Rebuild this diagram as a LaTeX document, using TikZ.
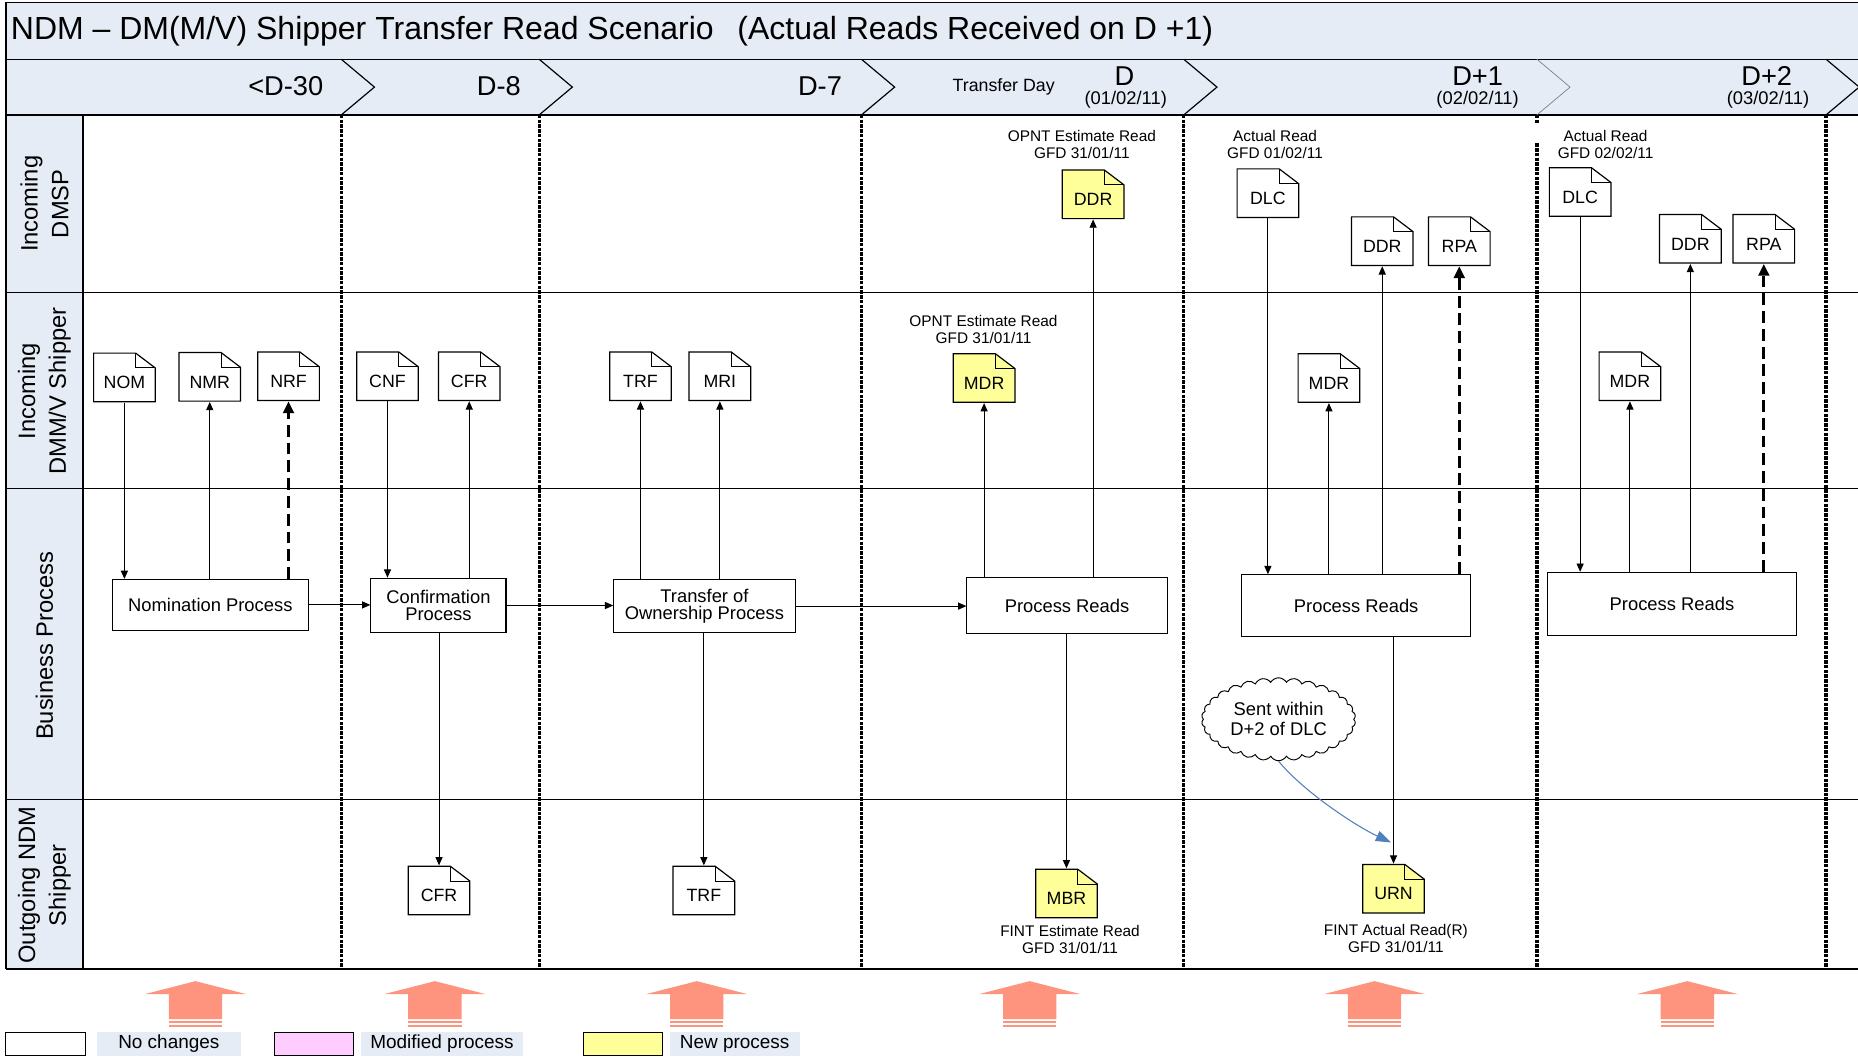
\documentclass[tikz,border=0pt]{standalone}
\usepackage{fontspec}
\setmainfont{Liberation Sans}
\usetikzlibrary{arrows.meta,shapes.symbols}
\definecolor{laneblue}{RGB}{229,236,246}
\definecolor{docyellow}{RGB}{255,255,153}
\definecolor{modpink}{RGB}{255,204,255}
\definecolor{salmonc}{RGB}{255,148,126}
\definecolor{cloudblue}{RGB}{79,129,189}
\newcommand{\myfs}[2]{\fontsize{#1}{#2}\selectfont}
\begin{document}
\begin{tikzpicture}[x=1pt,y=-1pt,
  doc/.style={minimum width=53pt, minimum height=42pt, inner sep=0pt, fill=white,
    text height=19pt, text depth=0pt, font=\myfs{15}{16},
    path picture={
      \draw[fill=#1, line width=1pt]
        ([shift={(0.5pt,-0.5pt)}]path picture bounding box.north west)
        -- ([shift={(-17pt,-0.5pt)}]path picture bounding box.north east)
        -- ([shift={(-0.5pt,-13pt)}]path picture bounding box.north east)
        -- ([shift={(-0.5pt,0.5pt)}]path picture bounding box.south east)
        -- ([shift={(0.5pt,0.5pt)}]path picture bounding box.south west) -- cycle;
      \draw[line width=0.8pt]
        ([shift={(-17pt,-0.5pt)}]path picture bounding box.north east)
        -- ([shift={(-17pt,-13pt)}]path picture bounding box.north east)
        -- ([shift={(-0.5pt,-13pt)}]path picture bounding box.north east);
    }},
  doc/.default=white,
  proc/.style={draw, line width=0.9pt, fill=white, inner sep=0pt, align=center, font=\myfs{15.5}{14}},
  small/.style={align=center, inner sep=0pt, font=\myfs{13}{14}},
  lanelbl/.style={rotate=90, align=center, inner sep=0pt, font=\myfs{20}{26}},
  hdr/.style={inner sep=0pt, font=\myfs{23}{24}},
  hdrs/.style={inner sep=0pt, font=\myfs{15.5}{16}},
  conn/.style={line width=0.8pt, -{Triangle[length=7pt,width=6pt]}},
  dconn/.style={line width=2.6pt, dash pattern=on 10pt off 5pt, -{Triangle[length=10pt,width=9pt]}},
  sepline/.style={line width=2.8pt, dash pattern=on 3pt off 1pt},
  legbox/.style={draw, line width=0.8pt, minimum width=67pt, minimum height=20pt, inner sep=0pt},
  legtxt/.style={fill=laneblue, minimum height=20pt, inner sep=0pt, font=\myfs{16}{17}}
]
\useasboundingbox (0,0) rectangle (1568,893);

% ---------- backgrounds ----------
\fill[laneblue] (5,2) rectangle (1568,97);
\fill[laneblue] (5,97) rectangle (70,818);

% ---------- frame lines ----------
\draw[line width=1pt] (5,2) -- (1568,2);
\draw[line width=1pt] (5,50) -- (1568,50);
\draw[line width=1pt] (5,97) -- (1568,97);
\draw[line width=1pt] (5,2) -- (5,818);
\draw[line width=1pt] (70,97) -- (70,818);
\draw[line width=1pt] (5,247) -- (1568,247);
\draw[line width=1pt] (5,412) -- (1568,412);
\draw[line width=1pt] (5,675) -- (1568,675);
\draw[line width=1.8pt] (5,818) -- (1568,818);

% ---------- chevrons ----------
\foreach \b in {288,455,727,999,1541}
  \draw[line width=1pt] (\b,50) -- (\b+28,73.5) -- (\b,97);
\draw[line width=0.6pt, gray] (1297,50) -- (1325,73.5) -- (1297,97);

% ---------- day separators ----------
\foreach \b in {288,455,727,999,1541}
  \draw[sepline] (\b,97) -- (\b,818);
\draw[sepline] (1297,97) -- (1297,104);
\draw[sepline] (1297,121) -- (1297,818);

% ---------- title & header ----------
\node[anchor=west, inner sep=0pt, font=\myfs{27}{30}] (title) at (9,26)
  {NDM – DM(M/V) Shipper Transfer Read Scenario\hspace{20pt}(Actual Reads Received on D +1)};
\node[hdr, anchor=east] (h30) at (273,73) {<D-30};
\node[hdr] (h8) at (421,73) {D-8};
\node[hdr] (h7) at (692,73) {D-7};
\node[hdrs, font=\myfs{15}{16}] (htd) at (847,73) {Transfer Day};
\node[hdr] (hd) at (949,64) {D};
\node[hdrs] (hdd) at (950,84) {(01/02/11)};
\node[hdr] (hd1) at (1247,64) {D+1};
\node[hdrs] (hd1d) at (1247,84) {(02/02/11)};
\node[hdr] (hd2) at (1491,64) {D+2};
\node[hdrs] (hd2d) at (1492,84) {(03/02/11)};

% ---------- lane labels ----------
\node[lanelbl] (l1) at (37.5,172) {Incoming\\DMSP};
\node[lanelbl] (l2) at (37.5,330) {Incoming\\DMM/V Shipper};
\node[lanelbl] (l3) at (37.5,545) {Business Process};
\node[lanelbl] (l4) at (37.5,747) {Outgoing NDM\\Shipper};

% ---------- documents: Incoming DMSP ----------
\node[doc=docyellow] (ddrd) at (922.5,164) {DDR};
\node[doc] (dlc1) at (1070,163) {DLC};
\node[doc] (ddr1) at (1166.5,203.5) {DDR};
\node[doc] (rpa1) at (1231.5,203.5) {RPA};
\node[doc] (dlc2) at (1333.5,162) {DLC};
\node[doc] (ddr2) at (1426.5,201.5) {DDR};
\node[doc] (rpa2) at (1488.5,201.5) {RPA};

% ---------- documents: Incoming DMM/V Shipper ----------
\node[doc] (nom) at (105,318.5) {NOM};
\node[doc] (nmr) at (177,318) {NMR};
\node[doc] (nrf) at (243.5,317.5) {NRF};
\node[doc] (cnf) at (327,317.5) {CNF};
\node[doc] (cfr) at (396,317.5) {CFR};
\node[doc] (trf) at (540.5,317.5) {TRF};
\node[doc] (mri) at (607.5,317.5) {MRI};
\node[doc=docyellow] (mdrd) at (830.5,319) {MDR};
\node[doc] (mdr1) at (1121.5,319) {MDR};
\node[doc] (mdr2) at (1375.5,317.5) {MDR};

% ---------- documents: Outgoing ----------
\node[doc] (cfro) at (370.5,751.5) {CFR};
\node[doc] (trfo) at (594,751.5) {TRF};
\node[doc=docyellow] (mbr) at (900,754) {MBR};
\node[doc=docyellow] (urn) at (1176,750) {URN};

% ---------- small labels ----------
\node[small] (lddrd) at (913,122) {OPNT Estimate Read\\GFD 31/01/11};
\node[small] (ldlc1) at (1076,122) {Actual Read\\GFD 01/02/11};
\node[small] (ldlc2) at (1355,122) {Actual Read\\GFD 02/02/11};
\node[small] (lmdrd) at (830,278) {OPNT Estimate Read\\GFD 31/01/11};
\node[small] (lmbr) at (903,793) {FINT Estimate Read\\GFD 31/01/11};
\node[small] (lurn) at (1178,792) {FINT Actual Read(R)\\GFD 31/01/11};

% ---------- process boxes ----------
\node[proc, minimum width=165pt, minimum height=43pt] (np) at (177.5,510.5) {Nomination Process};
\node[proc, minimum width=114pt, minimum height=46pt] (cp) at (370,511) {Confirmation\\Process};
\node[proc, minimum width=153pt, minimum height=45pt] (tr) at (594.5,511.5) {Transfer of\\Ownership Process};
\node[proc, minimum width=169pt, minimum height=48pt] (prd) at (900.5,511) {Process Reads};
\node[proc, minimum width=193pt, minimum height=52pt] (pr1) at (1144.5,511) {Process Reads};
\node[proc, minimum width=210pt, minimum height=53pt] (pr2) at (1411,509.5) {Process Reads};

% ---------- cloud ----------
\node[cloud, cloud puffs=30, cloud puff arc=120, cloud ignores aspect, draw, line width=0.8pt, fill=white,
  minimum width=130pt, minimum height=70pt, inner sep=0pt, align=center,
  font=\myfs{15.5}{17}] (cloud) at (1079,607) {Sent within\\D+2 of DLC};
\coordinate (urnin) at (1174,711);

% ---------- connectors ----------
\draw[conn] (nom.south) -- (nom.south |- np.north);
\draw[conn] (np.north -| nmr.south) -- (nmr.south);
\draw[dconn] (np.north -| nrf.south) -- (nrf.south);
\draw[conn] (np.east) -- (np.east -| cp.west);
\draw[conn] (cnf.south) -- (cnf.south |- cp.north);
\draw[conn] (cp.north -| cfr.south) -- (cfr.south);
\draw[conn] (cp.south -| cfro.north) -- (cfro.north);
\draw[conn] (cp.east) -- (cp.east -| tr.west);
\draw[conn] (tr.north -| trf.south) -- (trf.south);
\draw[conn] (tr.north -| mri.south) -- (mri.south);
\draw[conn] (tr.south -| trfo.north) -- (trfo.north);
\draw[conn] (tr.east) -- (tr.east -| prd.west);
\draw[conn] (prd.north -| mdrd.south) -- (mdrd.south);
\draw[conn] (prd.north -| ddrd.south) -- (ddrd.south);
\draw[conn] (prd.south -| mbr.north) -- (mbr.north);
\draw[conn] (dlc1.south) -- (dlc1.south |- pr1.north);
\draw[conn] (pr1.north -| mdr1.south) -- (mdr1.south);
\draw[conn] (pr1.north -| ddr1.south) -- (ddr1.south);
\draw[dconn] (pr1.north -| rpa1.south) -- (rpa1.south);
\draw[conn] (pr1.south -| urn.north) -- (urn.north);
\draw[conn] (dlc2.south) -- (dlc2.south |- pr2.north);
\draw[conn] (pr2.north -| mdr2.south) -- (mdr2.south);
\draw[conn] (pr2.north -| ddr2.south) -- (ddr2.south);
\draw[dconn] (pr2.north -| rpa2.south) -- (rpa2.south);
\draw[cloudblue, line width=0.9pt, -{Triangle[length=13pt,width=9pt]}]
  (cloud.south) .. controls (1100,668) and (1144,697) .. (urnin);

% ---------- big salmon arrows ----------
\foreach \cx in {165,367,588,869,1160,1424} {
  \fill[salmonc] (\cx,828) -- (\cx+43,839) -- (\cx+22.5,839) -- (\cx+22.5,860)
    -- (\cx-22.5,860) -- (\cx-22.5,839) -- (\cx-43,839) -- cycle;
  \fill[salmonc] (\cx-22.5,861.5) rectangle (\cx+22.5,863.5);
  \fill[salmonc] (\cx-22.5,865) rectangle (\cx+22.5,867);
}

% ---------- legend ----------
\node[legbox, fill=white] (lgw) at (38.5,881) {};
\node[legtxt, minimum width=121pt] (lgwt) at (142.5,881) {No changes};
\node[legbox, fill=modpink] (lgp) at (265,881) {};
\node[legtxt, minimum width=136pt] (lgpt) at (373,881) {Modified process};
\node[legbox, fill=docyellow] (lgy) at (525.5,881) {};
\node[legtxt, minimum width=110pt] (lgyt) at (620,881) {New process};
\end{tikzpicture}
\end{document}
